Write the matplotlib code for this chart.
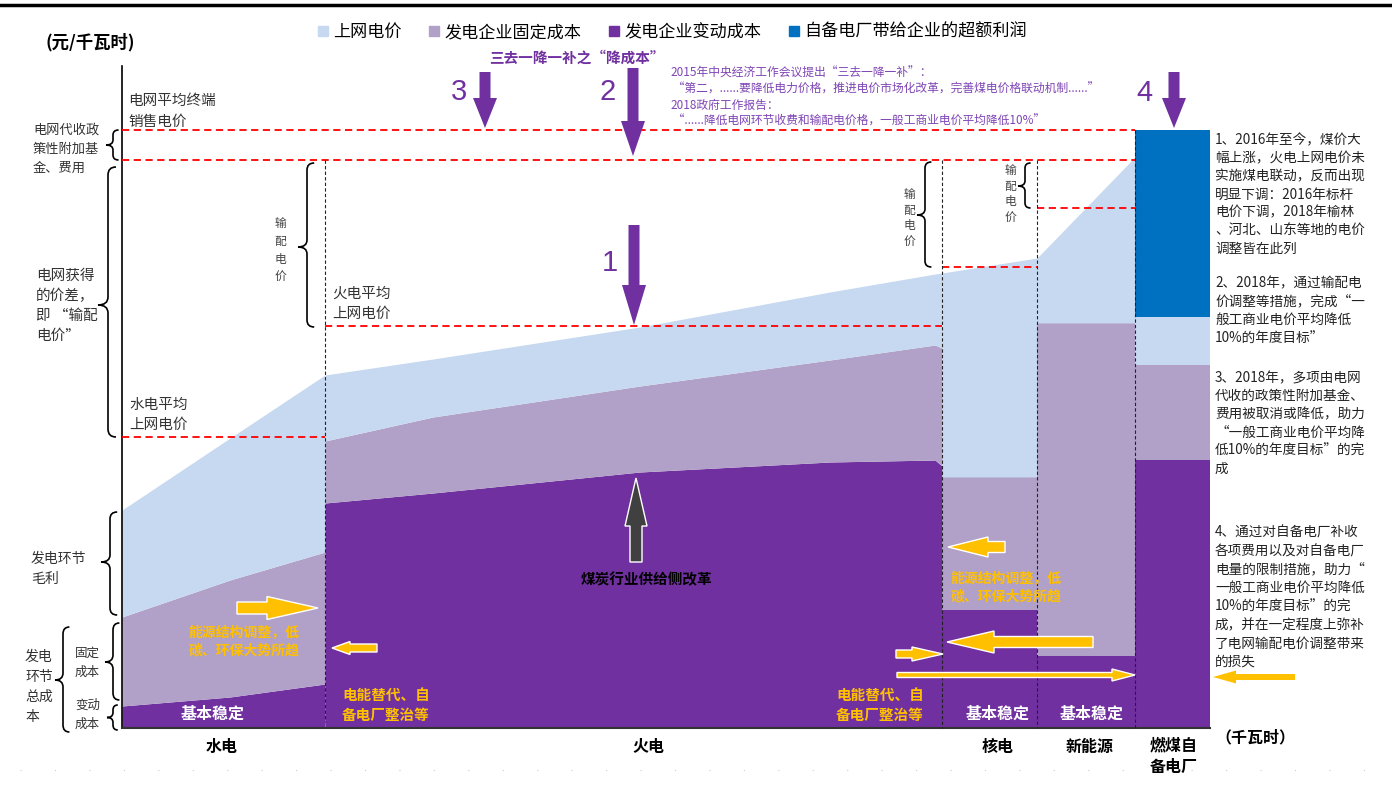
import matplotlib.pyplot as plt
import matplotlib.patches as mpatches
from matplotlib.path import Path

plt.rcParams['font.family'] = ['Noto Sans CJK SC', 'DejaVu Sans']

# 颜色
C_GRID = '#C6D9F0'
C_FIX = '#B1A0C7'
C_VAR = '#7030A0'
C_EXTRA = '#0070C0'
C_ORANGE = '#FFC000'
C_RED = '#FF0000'
C_TXT = '#333333'

BASE = 728  # 横轴 (画布坐标, 向下为正)

# --- 各电源的成本/电价结构 (示意, 按图读取) ---
hydro_x = [122, 230, 325]
hydro_var = [706, 697, 684]
hydro_fix = [617, 580, 552]
hydro_grid = [510, 438, 375]

thermal_x = [325, 433, 640, 830, 935, 942]
thermal_var = [503, 493, 472, 462, 460, 466]
thermal_fix = [441, 417, 386, 360, 345, 348]
thermal_grid = [375, 359, 327, 292, 274, 273]

nuclear_x = [942, 1037]
nuclear_var = [610, 610]
nuclear_fix = [477, 477]
nuclear_grid = [273, 258]

renew_x = [1037, 1135]
renew_var = [656, 656]
renew_fix = [323, 323]
renew_grid = [258, 157]

captive_x = [1135, 1210]
captive_var = [460, 460]
captive_fix = [365, 365]
captive_grid = [317, 317]
captive_extra = [130, 130]

# 红色虚线: 各类电价水平 (x0, x1, y)
price_lines = [(122, 1135, 130), (122, 1135, 160), (122, 325, 437),
               (325, 942, 326), (942, 1037, 267), (1037, 1135, 208)]
# 分界竖虚线 (x, y0, y1)
dividers = [(325, 160, 722), (942, 160, 728), (1037, 160, 728), (1135, 130, 728)]

legend_labels = ['上网电价', '发电企业固定成本', '发电企业变动成本', '自备电厂带给企业的超额利润']
source_labels = ['水电', '火电', '核电', '新能源']
source_label_x = [222, 648, 998, 1090]

fig = plt.figure(figsize=(13.92, 7.85), dpi=100)
ax = fig.add_axes([0, 0, 1, 1])
ax.set_xlim(0, 1392)
ax.set_ylim(785, 0)
ax.axis('off')

# 面积
for xs, var, fix, grid in [(hydro_x, hydro_var, hydro_fix, hydro_grid),
                           (thermal_x, thermal_var, thermal_fix, thermal_grid),
                           (nuclear_x, nuclear_var, nuclear_fix, nuclear_grid),
                           (renew_x, renew_var, renew_fix, renew_grid),
                           (captive_x, captive_var, captive_fix, captive_grid)]:
    ax.fill_between(xs, [BASE] * len(xs), var, color=C_VAR, lw=0, zorder=1)
    ax.fill_between(xs, var, fix, color=C_FIX, lw=0, zorder=1)
    ax.fill_between(xs, fix, grid, color=C_GRID, lw=0, zorder=1)
ax.fill_between(captive_x, captive_grid, captive_extra, color=C_EXTRA, lw=0, zorder=1)

# 坐标轴线
ax.plot([122, 122], [66, BASE], color='black', lw=1.2, zorder=3)
ax.plot([122, 1210], [BASE, BASE], color='#333333', lw=1.5, zorder=3)
ax.plot([0, 1392], [5, 5], color='black', lw=2.5, zorder=3)
ax.plot([20, 1380], [770, 770], color='#cccccc', lw=0.8, ls=(0, (1, 30)), zorder=3)

for x0, x1, y in price_lines:
    ax.plot([x0, x1], [y, y], color=C_RED, lw=1.3, ls=(0, (4, 2.5)), zorder=3)
for x, y0, y1 in dividers:
    ax.plot([x, x], [y0, y1], color='#222222', lw=0.8, ls=(0, (3, 2)), zorder=3)


def brace(x, y0, y1, w=8, c=6, tip=None):
    m = (y0 + y1) / 2 if tip is None else tip
    verts = [(x + w * 0.8, y0), (x, y0), (x, y0 + c), (x, m - c), (x, m), (x - w, m),
             (x, m), (x, m + c), (x, y1 - c), (x, y1), (x + w * 0.8, y1)]
    codes = [Path.MOVETO, Path.CURVE3, Path.CURVE3, Path.LINETO, Path.CURVE3, Path.CURVE3,
             Path.CURVE3, Path.CURVE3, Path.LINETO, Path.CURVE3, Path.CURVE3]
    ax.add_patch(mpatches.PathPatch(Path(verts, codes), fc='none', ec='black', lw=1.2, zorder=4))


def lines(x, y0, rows, step, **kw):
    for i, s in enumerate(rows):
        ax.text(x, y0 + i * step, s, va='center', zorder=6, **kw)


def arrow(x0, y0, x1, y1, w, hw, hl, fc, ec='white', lw=1.0):
    ax.add_patch(mpatches.FancyArrow(x0, y0, x1 - x0, y1 - y0, width=w, head_width=hw,
                                     head_length=hl, length_includes_head=True,
                                     fc=fc, ec=ec, lw=lw, zorder=5))


# 大括号
brace(113, 130, 160, w=7, c=5)
brace(108, 167, 437, w=10, c=8, tip=305)
brace(110, 512, 615, w=9, c=7, tip=562)
brace(113, 623, 700, w=8, c=7, tip=662)
brace(113, 705, 730, w=6, c=5)
brace(63, 627, 732, w=8, c=7, tip=680)
brace(307, 163, 327, w=9, c=7, tip=247)
brace(925, 162, 267, w=8, c=6, tip=215)
brace(1025, 163, 208, w=7, c=5, tip=186)

# 左侧说明
kw_l = dict(fontsize=9.5, color=C_TXT)
lines(33, 130, ['电网代收政', '策性附加基', '金、费用'], 19, **kw_l)
lines(36, 276, ['电网获得', '的价差，', '即 “输配', '电价”'], 20, fontsize=10.5, color=C_TXT)
lines(31, 559, ['发电环节', '毛利'], 20, fontsize=10, color=C_TXT)
lines(75, 653, ['固定', '成本'], 19, fontsize=9, color=C_TXT)
lines(75, 705, ['变动', '成本'], 19, fontsize=9, color=C_TXT)
lines(25, 657, ['发电', '环节', '总成', '本'], 20, fontsize=10, color=C_TXT)
lines(128, 101, ['电网平均终端', '销售电价'], 21, fontsize=10.5, color=C_TXT)
lines(129, 405, ['水电平均', '上网电价'], 20, fontsize=10.5, color=C_TXT)
lines(332, 294, ['火电平均', '上网电价'], 20, fontsize=10.5, color=C_TXT)
for x, y0, step in [(280, 223, 18), (909, 194, 16), (1010, 170, 16)]:
    lines(x, y0, list('输配电价'), step, fontsize=8.5, color='#444444', ha='center')

ax.text(90, 42, '(元/千瓦时)', ha='center', va='center', fontsize=12.5, fontweight='bold')

# 图例
handles = [mpatches.Patch(color=c, label=l) for c, l in
           zip([C_GRID, C_FIX, C_VAR, C_EXTRA], legend_labels)]
fig.legend(handles=handles, loc='upper left', bbox_to_anchor=(318 / 1392, 1 - 23 / 785),
           ncol=4, frameon=False, fontsize=12.3, handlelength=0.6, handleheight=0.6,
           handletextpad=0.3, columnspacing=1.6, borderaxespad=0, borderpad=0)

# 政策说明 (紫色)
ax.text(577, 58, '三去一降一补之“降成本”', ha='center', va='center', fontsize=10.5,
        fontweight='bold', color=C_VAR)
lines(670, 73, ['2015年中央经济工作会议提出“三去一降一补”：',
                ' “第二，......要降低电力价格，推进电价市场化改革，完善煤电价格联动机制......”',
                '2018政府工作报告：',
                ' “......降低电网环节收费和输配电价格，一般工商业电价平均降低10%”'],
      16, fontsize=8.5, color='#7F45B5')

# 紫色编号箭头
for num, tx, ty, ax_x, y0, y1, hl in [('3', 459, 92, 485, 72, 128, 30),
                                      ('2', 608, 92, 633, 68, 156, 35),
                                      ('1', 610, 263, 634, 225, 325, 40),
                                      ('4', 1144, 93, 1174, 72, 128, 30)]:
    arrow(ax_x, y0, ax_x, y1, 11, 24, hl, C_VAR, ec=C_VAR, lw=0)
    ax.text(tx, ty, num, ha='center', va='center', fontsize=21, color=C_VAR,
            family='Liberation Sans')

# 煤炭供给侧改革
arrow(636, 562, 636, 478, 12, 22, 48, '#404040', ec='white', lw=1)
ax.text(646, 579, '煤炭行业供给侧改革', ha='center', va='center', fontsize=10.5,
        fontweight='bold', color='black', zorder=6)

# 橙色箭头
arrow(237, 608, 318, 608, 12, 23, 51, C_ORANGE)
arrow(377, 648, 332, 648, 8, 13, 18, C_ORANGE)
arrow(1005, 547, 948, 547, 11, 20, 40, C_ORANGE)
arrow(1093, 642, 947, 642, 11, 22, 47, C_ORANGE)
arrow(896, 654, 943, 654, 8, 14, 31, C_ORANGE)
arrow(897, 675, 1135, 675, 5, 12, 23, C_ORANGE)
arrow(1295, 677, 1213, 677, 6, 13, 23, C_ORANGE, ec=C_ORANGE, lw=0)

kw_o = dict(fontsize=10, fontweight='bold', color=C_ORANGE, ha='center')
lines(244, 632, ['能源结构调整，低', '碳、环保大势所趋'], 18, **kw_o)
lines(1006, 578, ['能源结构调整，低', '碳、环保大势所趋'], 18, **kw_o)
kw_o2 = dict(fontsize=10.5, fontweight='bold', color=C_ORANGE, ha='center')
lines(386, 695, ['电能替代、自', '备电厂整治等'], 20, **kw_o2)
lines(880, 695, ['电能替代、自', '备电厂整治等'], 20, **kw_o2)

for x in [213, 998, 1092]:
    ax.text(x, 714, '基本稳定', ha='center', va='center', fontsize=11.5,
            fontweight='bold', color='white', zorder=6)

# 横轴标签
for s, x in zip(source_labels, source_label_x):
    ax.text(x, 747, s, ha='center', va='center', fontsize=11.5, fontweight='bold')
lines(1174, 745, ['燃煤自', '备电厂'], 22, fontsize=11.5, fontweight='bold', ha='center')
ax.text(1255, 737, '（千瓦时）', ha='center', va='center', fontsize=11.5, fontweight='bold')

# 右侧说明
kw_r = dict(fontsize=9.8, color='#222222')
lines(1215, 140, ['1、2016年至今，煤价大', '幅上涨，火电上网电价未', '实施煤电联动，反而出现',
                  '明显下调：2016年标杆', '电价下调，2018年榆林', '、河北、山东等地的电价',
                  '调整皆在此列'], 18.2, **kw_r)
lines(1215, 283, ['2、2018年，通过输配电', '价调整等措施，完成“一', '般工商业电价平均降低',
                  '10%的年度目标”'], 18.3, **kw_r)
lines(1215, 378, ['3、2018年，多项由电网', '代收的政策性附加基金、', '费用被取消或降低，助力',
                  '“一般工商业电价平均降', '低10%的年度目标”的完', '成'], 18.2, **kw_r)
lines(1215, 533, ['4、通过对自备电厂补收', '各项费用以及对自备电厂', '电量的限制措施，助力“',
                  '一般工商业电价平均降低', '10%的年度目标”的完', '成，并在一定程度上弥补',
                  '了电网输配电价调整带来', '的损失'], 18.4, **kw_r)

fig.savefig('out.png', dpi=100)
